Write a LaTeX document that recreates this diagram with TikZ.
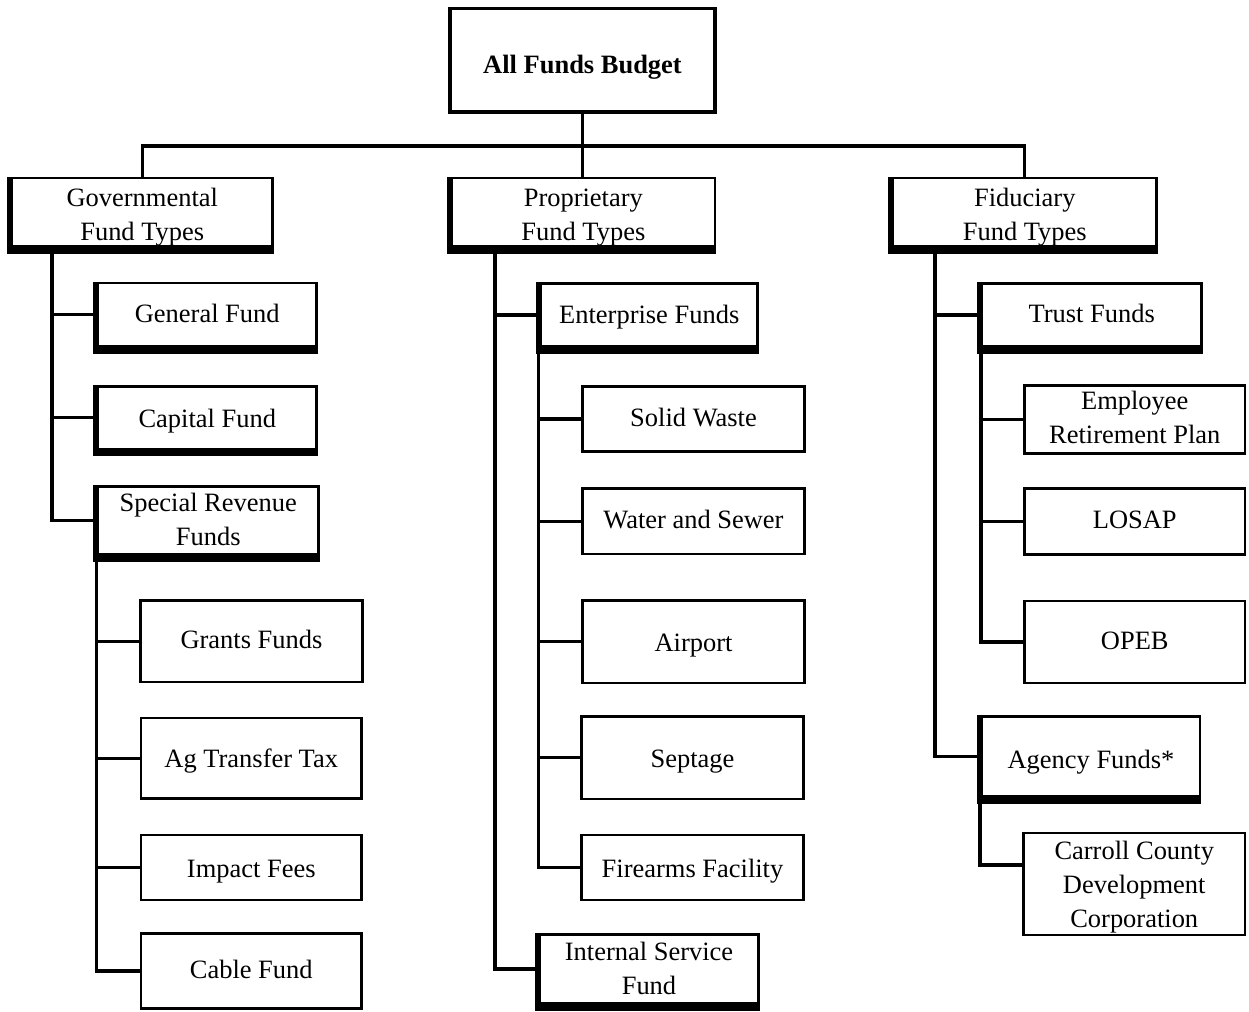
\documentclass[tikz,border=0pt]{standalone}
\usepackage{fontspec}
\setmainfont{Liberation Serif}
\newcommand\bx[7]{\node[#1, minimum width={(#4-#2)*0.75pt}, minimum height={(#5-#3)*0.75pt}] (#6) at ({(#2+#4)/2},{(#3+#5)/2}) {\raisebox{-\tdropval}[\height][\depth]{\begin{tabular}{@{}c@{}}#7\end{tabular}}};}
\begin{document}
\begin{tikzpicture}[x=0.75pt,y=-0.75pt,
  font=\fontsize{19.85}{25.5}\selectfont,
  tdrop/.store in=\tdropval, tdrop=1.5pt,
  fbox/.style={draw, line width=2pt, rectangle, inner sep=0pt, outer sep=0pt},
  topbox/.style={fbox, line width=2.8pt, font=\fontsize{19.85}{25.5}\selectfont\bfseries, tdrop=4.5pt},
  lvl/.style={fbox, tdrop=3.75pt},
  conn/.style={line width=2.3pt}]
\useasboundingbox (0,0) rectangle (1249,1011);

% nodes
\bx{topbox}{450}{8.5}{715}{112}{top}{All Funds Budget}
\bx{lvl}{12}{180.3}{272.5}{244}{gov}{Governmental\\Fund Types}
\bx{lvl}{451.7}{180.3}{715}{244}{prop}{Proprietary\\Fund Types}
\bx{lvl}{893}{180.3}{1156.5}{244}{fid}{Fiduciary\\Fund Types}

\bx{fbox,tdrop=1pt}{98}{283}{316.5}{346.5}{genf}{General Fund}
\bx{fbox,tdrop=2.25pt}{98}{386.5}{316.5}{449}{capf}{Capital Fund}
\bx{fbox,tdrop=1pt}{98}{488}{318.5}{553}{srf}{Special Revenue\\Funds}
\bx{fbox,tdrop=0.5pt}{140.5}{600.5}{362.5}{682}{grants}{Grants Funds}
\bx{fbox}{141}{718}{361.5}{798.5}{ag}{Ag Transfer Tax}
\bx{fbox,tdrop=2.5pt}{141}{835}{361.5}{900}{impact}{Impact Fees}
\bx{fbox,tdrop=0.5pt}{141}{933.5}{361.5}{1008.5}{cable}{Cable Fund}

\bx{fbox}{541}{283.5}{757.5}{346.5}{entf}{Enterprise Funds}
\bx{fbox,tdrop=0.5pt}{582.5}{386.5}{804.5}{451.5}{solid}{Solid Waste}
\bx{fbox,tdrop=0.5pt}{582.5}{488.5}{804.5}{554}{water}{Water and Sewer}
\bx{fbox,tdrop=2.25pt}{582.5}{600.5}{804.5}{683}{airport}{Airport}
\bx{fbox,tdrop=2.25pt}{581.5}{716.5}{803.5}{799}{septage}{Septage}
\bx{fbox,tdrop=2.5pt}{581.5}{835}{803.5}{900}{fire}{Firearms Facility}
\bx{fbox,tdrop=1pt}{539.5}{934.5}{758.5}{1003.5}{isf}{Internal Service\\Fund}

\bx{fbox,tdrop=0.5pt}{982}{283.5}{1201.5}{346.5}{trf}{Trust Funds}
\bx{fbox,tdrop=0pt}{1024.5}{386.5}{1245}{453}{emp}{Employee\\Retirement Plan}
\bx{fbox,tdrop=0.5pt}{1024.5}{488.5}{1245}{554.5}{losap}{LOSAP}
\bx{fbox,tdrop=0.5pt}{1024.5}{601}{1245}{683}{opeb}{OPEB}
\bx{lvl}{982}{716.5}{1200}{796.5}{agf}{Agency Funds*}
\bx{fbox,tdrop=2.25pt}{1023.5}{835}{1245}{933}{carroll}{Carroll County\\Development\\Corporation}

% heavy left and bottom edges
\foreach \n in {gov,prop,fid,genf,capf,srf,entf,trf,agf,isf}{
  \fill ([xshift=-3.75pt,yshift=1pt]\n.north west) rectangle ([xshift=1pt,yshift=-5.6pt]\n.south west);
  \fill ([xshift=-3.75pt,yshift=1pt]\n.south west) rectangle ([xshift=1pt,yshift=-5.6pt]\n.south east);
}

% top bus
\coordinate (bus) at (582.5,146);
\draw[conn] (top.south) -- (top.south |- prop.north);
\draw[conn] (gov.north) -- (gov.north |- bus) -| (fid.north);

% trunks
\coordinate (govT) at (52,251);
\coordinate (propT) at (495,251);
\coordinate (fidT) at (935,251);
\coordinate (srT) at (96.5,558);
\coordinate (entT) at (538.5,352);
\coordinate (trT) at (981,352);
\coordinate (agT) at (980,802);

\foreach \c in {genf,capf,srf} \draw[conn] (govT) |- (\c.west);
\foreach \c in {grants,ag,impact,cable} \draw[conn] (srT) |- (\c.west);
\foreach \c in {entf,isf} \draw[conn] (propT) |- (\c.west);
\foreach \c in {solid,water,airport,septage,fire} \draw[conn] (entT) |- (\c.west);
\foreach \c in {trf,agf} \draw[conn] (fidT) |- (\c.west);
\foreach \c in {emp,losap,opeb} \draw[conn] (trT) |- (\c.west);
\draw[conn] (agT) |- ([yshift=14.25pt]carroll.west);
\end{tikzpicture}
\end{document}
